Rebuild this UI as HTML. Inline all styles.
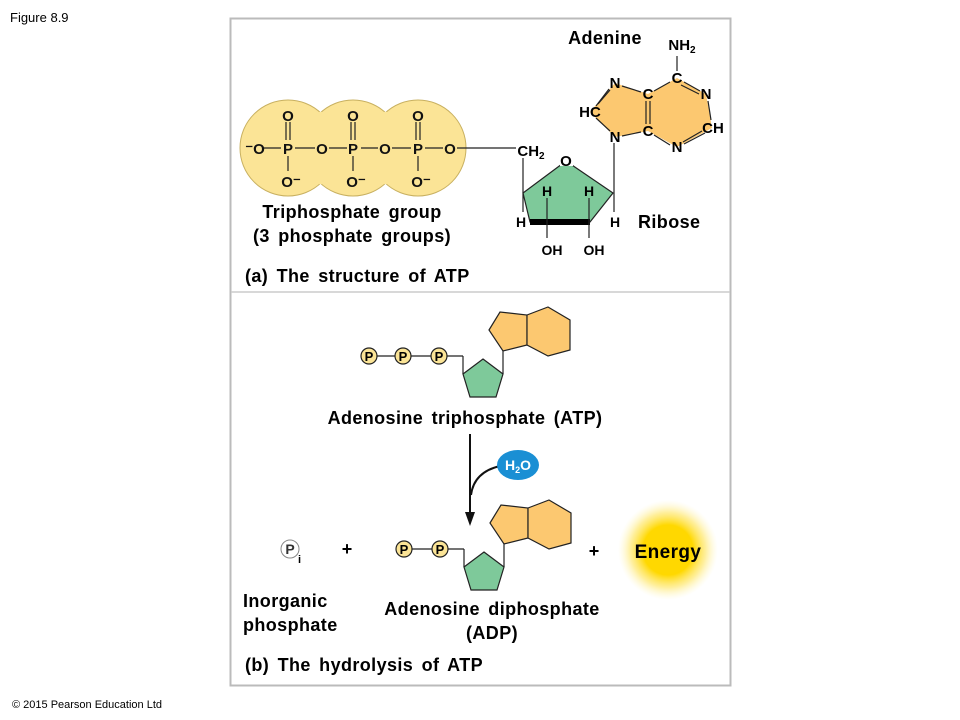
<!DOCTYPE html>
<html><head><style>
body{margin:0;background:#fff;}
svg{display:block;font-family:"Liberation Sans",Arial,sans-serif;}
.b{font-weight:bold;}
.L{font-weight:bold;font-size:18px;letter-spacing:0.4px;word-spacing:3px;}
</style></head><body>
<svg width="960" height="720" viewBox="0 0 960 720">
<defs>
<radialGradient id="g"><stop offset="0" stop-color="#ffd800"/><stop offset="0.5" stop-color="#ffd800"/><stop offset="0.75" stop-color="#ffe870" stop-opacity="0.7"/><stop offset="1" stop-color="#fff6c0" stop-opacity="0"/></radialGradient>
</defs>
<text x="10" y="22" font-size="13">Figure 8.9</text>
<text x="12" y="708" font-size="11">© 2015 Pearson Education Ltd</text>
<rect x="230.5" y="18.5" width="500" height="667" fill="none" stroke="#bbb" stroke-width="2"/>
<line x1="231" y1="292" x2="730" y2="292" stroke="#ccc" stroke-width="1.5"/>
<g fill="#fbe496" stroke="#c8b060" stroke-width="1">
<circle cx="288" cy="148" r="48"/><circle cx="353" cy="148" r="48"/><circle cx="418" cy="148" r="48"/>
</g>
<g fill="#fbe496"><rect x="300" y="112" width="40" height="72"/><rect x="365" y="112" width="40" height="72"/></g>
<g stroke="#222" stroke-width="1.2" fill="none">
<line x1="262" y1="148" x2="281" y2="148"/><line x1="295" y1="148" x2="315" y2="148"/><line x1="329" y1="148" x2="347" y2="148"/><line x1="361" y1="148" x2="378" y2="148"/><line x1="392" y1="148" x2="411" y2="148"/><line x1="425" y1="148" x2="443" y2="148"/>
<line x1="457" y1="148" x2="516" y2="148"/>
<path d="M286 122v18M290 122v18M351 122v18M355 122v18M416 122v18M420 122v18"/>
<path d="M288 156v15M353 156v15M418 156v15"/>
</g>
<g class="b" font-size="15" text-anchor="middle" fill="#111">
<text x="288" y="121">O</text><text x="353" y="121">O</text><text x="418" y="121">O</text>
<text x="255" y="154">⁻O</text><text x="288" y="154">P</text><text x="322" y="154">O</text><text x="353" y="154">P</text><text x="385" y="154">O</text><text x="418" y="154">P</text><text x="450" y="154">O</text>
<text x="291" y="187">O⁻</text><text x="356" y="187">O⁻</text><text x="421" y="187">O⁻</text>
</g>
<text x="352" y="218" class="L" text-anchor="middle">Triphosphate group</text>
<text x="352" y="242" class="L" text-anchor="middle">(3 phosphate groups)</text>
<text x="245" y="282" class="L">(a) The structure of ATP</text>
<polygon points="566,161 613,193 590,222 530,222 523,193" fill="#7ec99a" stroke="#222" stroke-width="1.2"/>
<line x1="530" y1="222" x2="590" y2="222" stroke="#000" stroke-width="6"/>
<rect x="560" y="152" width="13" height="14" fill="#fff"/>
<g stroke="#222" stroke-width="1.2">
<line x1="523" y1="158" x2="523" y2="212"/><line x1="614" y1="143" x2="614" y2="212"/>
<line x1="547" y1="198" x2="547" y2="222"/><line x1="589" y1="198" x2="589" y2="222"/>
<line x1="547" y1="222" x2="547" y2="238"/><line x1="589" y1="222" x2="589" y2="238"/>
</g>
<g class="b" font-size="14" text-anchor="middle">
<text x="531" y="156" font-size="15">CH<tspan font-size="10" dy="3">2</tspan></text>
<text x="566" y="166" font-size="15">O</text>
<text x="547" y="196">H</text><text x="589" y="196">H</text>
<text x="521" y="227">H</text><text x="615" y="227">H</text>
<text x="552" y="255">OH</text><text x="594" y="255">OH</text>
</g>
<text x="638" y="228" class="L">Ribose</text>
<polygon points="615,83 648,94 677,78 706,94 712,128 677,147 648,131 615,137 590,112" fill="#fcc870"/>
<g stroke="#222" stroke-width="1.2" fill="none">
<path d="M622 86L641 92M654 91L670 82M684 82L700 91M708 101L711 120M705 133L684 144M670 145L654 135M641 132L622 136M610 131L596 118M596 106L609 89"/>
<path d="M646 101v23M650 101v23M681 85L699 94M683 142L702 131M598 104L610 90"/>
<line x1="677" y1="56" x2="677" y2="71"/>
</g>
<g class="b" font-size="15" text-anchor="middle">
<text x="615" y="88">N</text><text x="648" y="99">C</text><text x="677" y="83">C</text><text x="706" y="99">N</text><text x="713" y="133">CH</text><text x="677" y="152">N</text><text x="648" y="136">C</text><text x="615" y="142">N</text><text x="590" y="117">HC</text>
<text x="682" y="50">NH<tspan font-size="10" dy="3">2</tspan></text>
</g>
<text x="605" y="44" class="L" text-anchor="middle">Adenine</text>
<g stroke="#222" stroke-width="1.2">
<line x1="369" y1="356" x2="463" y2="356"/><polyline points="463,356 463,374" fill="none"/>
<polyline points="503,374 503,350" fill="none"/>
<polygon points="483,359 503,374 496,397 470,397 463,374" fill="#7ec99a"/>
<polygon points="489,330 500,312 527,315 527,345 503,351" fill="#fcc870"/>
<polygon points="527,315 548,307 570,320 570,350 548,356 527,345" fill="#fcc870"/>
<circle cx="369" cy="356" r="8" fill="#fbe496"/><circle cx="403" cy="356" r="8" fill="#fbe496"/><circle cx="439" cy="356" r="8" fill="#fbe496"/>
</g>
<g class="b" font-size="13" text-anchor="middle"><text x="369" y="361">P</text><text x="403" y="361">P</text><text x="439" y="361">P</text></g>
<text x="465" y="424" class="L" text-anchor="middle">Adenosine triphosphate (ATP)</text>
<line x1="470" y1="434" x2="470" y2="515" stroke="#111" stroke-width="2"/>
<polygon points="465,512 475,512 470,526" fill="#111"/>
<path d="M500 466Q474 472 471 495" stroke="#111" stroke-width="2" fill="none"/>
<ellipse cx="518" cy="465" rx="21" ry="15" fill="#1a8fd4"/>
<text x="518" y="470" class="b" font-size="14" fill="#fff" text-anchor="middle">H<tspan font-size="9" dy="3">2</tspan><tspan dy="-3">O</tspan></text>
<g stroke="#222" stroke-width="1.2" transform="translate(1,193)">
<line x1="403" y1="356" x2="463" y2="356"/><polyline points="463,356 463,374" fill="none"/>
<polyline points="503,374 503,350" fill="none"/>
<polygon points="483,359 503,374 496,397 470,397 463,374" fill="#7ec99a"/>
<polygon points="489,330 500,312 527,315 527,345 503,351" fill="#fcc870"/>
<polygon points="527,315 548,307 570,320 570,350 548,356 527,345" fill="#fcc870"/>
<circle cx="403" cy="356" r="8" fill="#fbe496"/><circle cx="439" cy="356" r="8" fill="#fbe496"/>
</g>
<g class="b" font-size="13" text-anchor="middle"><text x="404" y="554">P</text><text x="440" y="554">P</text></g>
<circle cx="290" cy="549" r="9" fill="none" stroke="#888"/>
<text x="290" y="554" class="b" font-size="14" text-anchor="middle" fill="#333">P</text>
<text x="298" y="563" font-size="11" class="b">i</text>
<text x="347" y="555" class="b" font-size="18" text-anchor="middle">+</text>
<text x="594" y="557" class="b" font-size="18" text-anchor="middle">+</text>
<circle cx="668" cy="550" r="50" fill="url(#g)"/>
<text x="668" y="558" class="b" font-size="19" text-anchor="middle" letter-spacing="0.4">Energy</text>
<text x="243" y="607" class="L">Inorganic</text>
<text x="243" y="631" class="L">phosphate</text>
<text x="492" y="615" class="L" text-anchor="middle">Adenosine diphosphate</text>
<text x="492" y="639" class="L" text-anchor="middle">(ADP)</text>
<text x="245" y="671" class="L">(b) The hydrolysis of ATP</text>
</svg>
</body></html>
